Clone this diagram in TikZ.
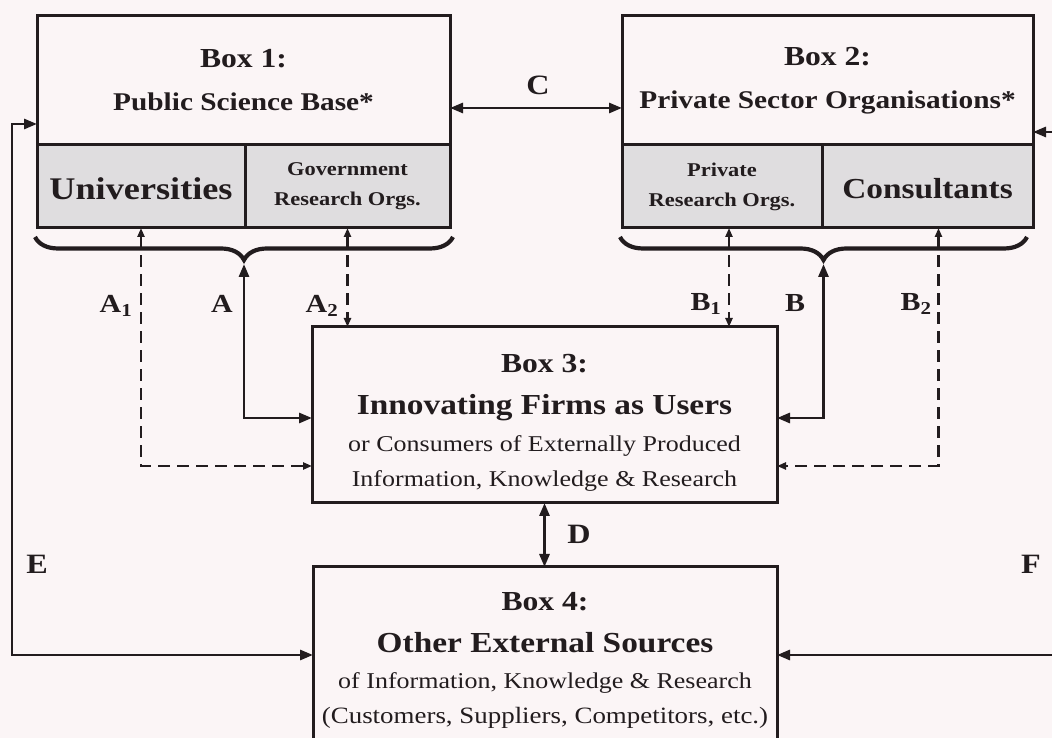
\documentclass[tikz,border=0pt]{standalone}
\usepackage{fontspec}
\setmainfont{Liberation Serif}[FakeStretch=1.15]
\usetikzlibrary{arrows.meta, positioning, calc, decorations.pathreplacing}

% font sizes used in the boxes
\newcommand{\headfont}{\bfseries\fontsize{27.5}{33}\selectfont}
\newcommand{\namefont}{\bfseries\fontsize{25.5}{33}\selectfont}
\newcommand{\bigfont}{\bfseries\fontsize{29}{33}\selectfont}
\newcommand{\smallcellfont}{\bfseries\fontsize{19.5}{24}\selectfont}
\newcommand{\plainfont}{\fontsize{22.6}{35}\selectfont}
\newcommand{\labfont}{\bfseries\fontsize{26}{30}\selectfont}
\newcommand{\biglabfont}{\bfseries\fontsize{28}{30}\selectfont}

\begin{document}
\begin{tikzpicture}[
    x=1pt, y=1pt,
    >={Triangle[length=13pt,width=10pt]},
    box/.style={
        draw=lineCol,
        line width=3pt,
        fill=bgCol,
        align=center,
        outer sep=0pt,
        inner sep=2pt,
        text=lineCol,
        font=\plainfont
    },
    cell/.style={box, fill=cellCol},
    link/.style={draw=lineCol, line width=2.8pt, <->},
    dashlink/.style={
        draw=lineCol,
        line width=2.3pt,
        dash pattern=on 12pt off 7pt,
        {Triangle[length=9pt,width=7pt]}-{Triangle[length=9pt,width=7pt]}
    },
    curly/.style={
        draw=lineCol,
        line width=4.2pt,
        decorate,
        decoration={brace, mirror, amplitude=23pt}
    },
    lab/.style={font=\labfont, text=lineCol, inner sep=0pt}
]

%--- Define colors ---
\definecolor{bgCol}{RGB}{251,245,246}     % paper
\definecolor{cellCol}{RGB}{223,221,223}   % grey sub-cells
\definecolor{lineCol}{RGB}{34,28,30}      % ink

\fill[bgCol] (0,0) rectangle (1052,738);
\useasboundingbox (0,0) rectangle (1052,738);

%------------------------------------
% TOP ROW: BOX 1 AND BOX 2
%------------------------------------

% Box 1
\node[box, minimum width=413pt, minimum height=129pt] (box1top) at (243.5,657.5)
{{\headfont Box 1:}\\[8pt]{\namefont Public Science Base*}};
\node[cell, minimum width=208pt, minimum height=83pt, below right=0pt of box1top.south west] (univ)
{{\bfseries\fontsize{31.5}{33}\selectfont\rule{0pt}{27pt}Universities}};
\node[cell, minimum width=205pt, minimum height=83pt, right=0pt of univ] (gov)
{{\smallcellfont Government}\\[-5pt]{\smallcellfont Research Orgs.}};

% Box 2
\node[box, minimum width=411pt, minimum height=129pt, right=172pt of box1top] (box2top)
{{\headfont Box 2:}\\[8pt]{\namefont Private Sector Organisations*}};
\node[cell, minimum width=200pt, minimum height=83pt, below right=0pt of box2top.south west] (priv)
{{\smallcellfont Private}\\[-5pt]{\smallcellfont Research Orgs.}};
\node[cell, minimum width=211pt, minimum height=83pt, right=0pt of priv] (cons)
{{\bfseries\fontsize{29}{33}\selectfont\rule{0pt}{25pt}Consultants}};

%------------------------------------
% CENTER: BOX 3 AND BOX 4
%------------------------------------

% Box 3
\node[box, minimum width=465pt, minimum height=176pt] (box3) at (544.5,323)
{{\headfont\rule{0pt}{34pt}Box 3:}\\[7pt]{\bigfont Innovating Firms as Users}\\[2pt]
or Consumers of Externally Produced\\Information, Knowledge \& Research};

% Box 4 (runs off the bottom)
\node[box, minimum width=464pt, minimum height=186pt] (box4) at (545,78)
{{\headfont Box 4:}\\[7pt]{\bigfont Other External Sources}\\[1pt]
of Information, Knowledge \& Research\\
{\fontsize{23.4}{35}\selectfont (Customers, Suppliers, Competitors, etc.)}};

%------------------------------------
% BRACES UNDER BOX 1 AND BOX 2
%------------------------------------
\coordinate (braceAl) at ([shift={(-2pt,-9pt)}]univ.south west);
\coordinate (braceAr) at ([shift={(3pt,-9pt)}]gov.south east);
\coordinate (braceBl) at ([shift={(-2pt,-9pt)}]priv.south west);
\coordinate (braceBr) at ([shift={(-6pt,-9pt)}]cons.south east);
\draw[curly] (braceAl) -- (braceAr);
\draw[curly] (braceBl) -- (braceBr);
\coordinate (tipA) at ($(braceAl)!0.5!(braceAr)+(0,-27pt)$);
\coordinate (tipB) at ($(braceBl)!0.5!(braceBr)+(0,-27pt)$);

%------------------
% EDGES (ARROWS)
%------------------

% C: Box 1 <-> Box 2
\draw[link] ([yshift=-27.5pt]box1top.east) -- ([yshift=-27.5pt]box2top.west);

% A, A1, A2: Box 1 <-> Box 3
\draw[link] (tipA) |- ([yshift=-3pt]box3.west);
\draw[dashlink] (univ.south) |- ([yshift=-51pt]box3.west);
\draw[dashlink] (gov.south) -- (gov.south |- box3.north);

% B, B1, B2: Box 2 <-> Box 3
\draw[link] (tipB) |- ([yshift=-3pt]box3.east);
\draw[dashlink] ([xshift=7pt]priv.south) coordinate (b1top) -- (b1top |- box3.north);
\draw[dashlink] ([xshift=11pt]cons.south) |- ([yshift=-51pt]box3.east);

% D: Box 3 <-> Box 4
\draw[link] (box3.south) -- (box3.south |- box4.north);

% E: Box 1 <-> Box 4 (left loop)
\draw[link] ([yshift=-43.5pt]box1top.west) -- ++(-25pt,0) |- ([yshift=5pt]box4.west);

% F: Box 2 <-> Box 4 (right loop, off the edge)
\draw[link] ([yshift=-51.5pt]box2top.east) -- ++(30pt,0) |- ([yshift=5pt]box4.east);

%------------------
% LABELS
%------------------
\node[lab] (labA1) at (116,432) {A\textsubscript{1}};
\node[lab] (labA)  at (222,434) {A};
\node[lab] (labA2) at (322,432) {A\textsubscript{2}};
\node[lab] (labB1) at (706,434) {B\textsubscript{1}};
\node[lab] (labB)  at (795,435) {B};
\node[lab] (labB2) at (916,434) {B\textsubscript{2}};
\node[lab, font=\biglabfont] (labC) at (538,653) {C};
\node[lab, font=\biglabfont] (labD) at (579,204) {D};
\node[lab, font=\biglabfont] (labE) at (37,174) {E};
\node[lab, font=\biglabfont] (labF) at (1031,174) {F};

\end{tikzpicture}
\end{document}
